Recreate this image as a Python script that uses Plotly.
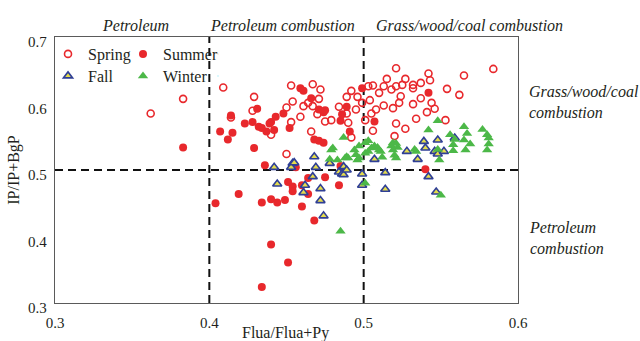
import plotly.graph_objects as go

# ---- data (Flua/(Flua+Py), IP/(IP+BgP)) ----
spring_x = [0.409, 0.383, 0.362, 0.453, 0.429, 0.454, 0.428, 0.414, 0.450, 0.453, 0.440, 0.450,
            0.521, 0.584, 0.542, 0.565, 0.527, 0.543, 0.515, 0.467, 0.472, 0.503, 0.506, 0.510,
            0.513, 0.518, 0.521, 0.525, 0.532, 0.532, 0.537, 0.554, 0.562, 0.492, 0.489, 0.496,
            0.524, 0.504, 0.471, 0.537, 0.461, 0.464, 0.467, 0.484, 0.499, 0.513, 0.523, 0.532,
            0.544, 0.546, 0.541, 0.519, 0.459, 0.470, 0.475, 0.479, 0.489, 0.495, 0.505, 0.508,
            0.501, 0.490, 0.534, 0.553, 0.521, 0.527, 0.506, 0.492, 0.466, 0.520]
spring_y = [0.624, 0.607, 0.585, 0.627, 0.610, 0.603, 0.589, 0.579, 0.594, 0.572, 0.553, 0.524,
            0.653, 0.652, 0.645, 0.642, 0.637, 0.635, 0.637, 0.629, 0.621, 0.626, 0.627, 0.616,
            0.626, 0.621, 0.626, 0.628, 0.628, 0.623, 0.631, 0.622, 0.613, 0.619, 0.610, 0.610,
            0.611, 0.605, 0.607, 0.608, 0.596, 0.601, 0.596, 0.595, 0.601, 0.597, 0.601, 0.599,
            0.601, 0.592, 0.587, 0.593, 0.580, 0.584, 0.573, 0.575, 0.585, 0.591, 0.585, 0.591,
            0.575, 0.571, 0.577, 0.575, 0.570, 0.562, 0.559, 0.549, 0.558, 0.551]

summer_x = [0.383, 0.414, 0.431, 0.448, 0.443, 0.423, 0.428, 0.432, 0.434, 0.437, 0.442, 0.452,
            0.407, 0.415, 0.412, 0.429, 0.436, 0.456, 0.454, 0.419, 0.404, 0.434, 0.440, 0.444,
            0.449, 0.451, 0.464, 0.475, 0.460, 0.454, 0.464, 0.484, 0.460, 0.468, 0.440, 0.451,
            0.434, 0.459, 0.461, 0.499, 0.542, 0.466, 0.471, 0.474, 0.475, 0.489, 0.485, 0.486,
            0.507, 0.491, 0.468, 0.471, 0.474, 0.540, 0.485, 0.440, 0.439]
summer_y = [0.534, 0.582, 0.592, 0.585, 0.580, 0.570, 0.572, 0.565, 0.563, 0.558, 0.560, 0.563,
            0.558, 0.556, 0.546, 0.533, 0.507, 0.504, 0.475, 0.464, 0.450, 0.451, 0.456, 0.451,
            0.455, 0.482, 0.488, 0.489, 0.477, 0.468, 0.464, 0.477, 0.445, 0.424, 0.388, 0.361,
            0.324, 0.623, 0.619, 0.623, 0.616, 0.608, 0.591, 0.587, 0.590, 0.595, 0.574, 0.584,
            0.573, 0.558, 0.546, 0.544, 0.541, 0.501, 0.506, 0.572, 0.570]

fall_x = [0.442, 0.454, 0.453, 0.444, 0.468, 0.469, 0.478, 0.484, 0.486, 0.487, 0.487, 0.489,
          0.467, 0.462, 0.461, 0.472, 0.472, 0.474, 0.455, 0.539, 0.548, 0.559, 0.540, 0.528,
          0.535, 0.546, 0.548, 0.552, 0.507, 0.514, 0.499, 0.499, 0.542, 0.547, 0.514]
fall_y = [0.504, 0.510, 0.504, 0.479, 0.520, 0.504, 0.510, 0.497, 0.494, 0.505, 0.493, 0.500,
          0.490, 0.477, 0.466, 0.472, 0.454, 0.431, 0.511, 0.543, 0.545, 0.548, 0.533, 0.528,
          0.516, 0.528, 0.524, 0.528, 0.516, 0.496, 0.494, 0.477, 0.490, 0.467, 0.471]

winter_x = [0.548, 0.542, 0.565, 0.577, 0.487, 0.556, 0.559, 0.567, 0.569, 0.580, 0.581, 0.581,
            0.580, 0.565, 0.566, 0.558, 0.558, 0.480, 0.494, 0.497, 0.501, 0.503, 0.495, 0.497,
            0.501, 0.503, 0.505, 0.507, 0.509, 0.510, 0.518, 0.519, 0.521, 0.522, 0.519, 0.520,
            0.521, 0.512, 0.511, 0.533, 0.534, 0.548, 0.549, 0.489, 0.490, 0.483, 0.478, 0.501,
            0.550, 0.485, 0.479, 0.488, 0.496]
winter_y = [0.574, 0.560, 0.565, 0.561, 0.549, 0.553, 0.546, 0.555, 0.539, 0.553, 0.548, 0.539,
            0.530, 0.545, 0.530, 0.538, 0.529, 0.533, 0.530, 0.536, 0.541, 0.544, 0.523, 0.518,
            0.525, 0.528, 0.533, 0.536, 0.534, 0.530, 0.536, 0.541, 0.540, 0.534, 0.530, 0.522,
            0.518, 0.519, 0.528, 0.531, 0.528, 0.531, 0.515, 0.520, 0.518, 0.515, 0.516, 0.480,
            0.462, 0.408, 0.530, 0.518, 0.515]

x_ticks = [0.3, 0.4, 0.5, 0.6]
y_ticks = [0.3, 0.4, 0.5, 0.6, 0.7]
x_bounds = [0.4, 0.5]
y_bound = 0.5

FONT = "Liberation Serif"
RED = "#e8282c"
TXT = "#231f20"

fig = go.Figure()
fig.add_trace(go.Scatter(x=spring_x, y=spring_y, mode="markers", name="Spring", legend="legend",
                         marker=dict(symbol="circle-open", size=7, color=RED, line=dict(width=1.6, color=RED))))
fig.add_trace(go.Scatter(x=summer_x, y=summer_y, mode="markers", name="Summer", legend="legend",
                         marker=dict(symbol="circle", size=8, color=RED, line=dict(width=0))))
fig.add_trace(go.Scatter(x=fall_x, y=fall_y, mode="markers", name="Fall", legend="legend2",
                         marker=dict(symbol="triangle-up", size=8, color="#e4dc4c",
                                     line=dict(width=1.6, color="#2f3f96"))))
fig.add_trace(go.Scatter(x=winter_x, y=winter_y, mode="markers", name="Winter", legend="legend2",
                         marker=dict(symbol="triangle-up", size=9, color="#4cb848", line=dict(width=0))))
# invisible spacer entries so that the two-column legends are wide enough for their labels
for lg in ["legend", "legend2"]:
    fig.add_trace(go.Scatter(x=[None], y=[None], mode="markers", name=" ", legend=lg,
                             marker=dict(size=1, opacity=0), hoverinfo="skip", showlegend=True))

shapes = []
for xb in x_bounds:
    shapes.append(dict(type="line", xref="x", yref="paper", x0=xb, x1=xb, y0=0, y1=1,
                       line=dict(color="#111111", width=2, dash="8px,5px"), layer="below"))
shapes.append(dict(type="line", xref="paper", yref="y", x0=0, x1=1, y0=y_bound, y1=y_bound,
                   line=dict(color="#111111", width=2, dash="8px,5px"), layer="below"))

ital = dict(family=FONT, size=16, color=TXT, style="italic")
annotations = [
    dict(text="Petroleum", x=0.1728, y=1.043, xref="paper", yref="paper", showarrow=False,
         xanchor="center", yanchor="middle", font=ital),
    dict(text="Petroleum combustion", x=0.4903, y=1.043, xref="paper", yref="paper", showarrow=False,
         xanchor="center", yanchor="middle", font=ital),
    dict(text="Grass/wood/coal combustion", x=0.8963, y=1.045, xref="paper", yref="paper", showarrow=False,
         xanchor="center", yanchor="middle", font=ital),
    dict(text="Grass/wood/coal<br>combustion", x=1.0194, y=0.7556, xref="paper", yref="paper",
         showarrow=False, xanchor="left", yanchor="middle", align="left", font=ital),
    dict(text="Petroleum<br>combustion", x=1.0194, y=0.2444, xref="paper", yref="paper",
         showarrow=False, xanchor="left", yanchor="middle", align="left", font=ital),
    dict(text="Flua/Flua+Py", x=0.498, y=-0.113, xref="paper", yref="paper", showarrow=False,
         xanchor="center", yanchor="middle", font=dict(family=FONT, size=16, color=TXT)),
]

axis_common = dict(showgrid=False, zeroline=False, showline=True, linecolor="#5a5a5a", linewidth=1.3,
                   mirror=True, ticks="", tickfont=dict(family=FONT, size=15, color=TXT))

leg_common = dict(orientation="h", xanchor="left", yanchor="top", entrywidth=30, entrywidthmode="pixels",
                  bgcolor="rgba(0,0,0,0)", font=dict(family=FONT, size=16, color=TXT),
                  itemclick=False, itemdoubleclick=False, tracegroupgap=0)

fig.update_layout(
    width=640, height=341,
    margin=dict(l=55, r=122, t=37, b=38, autoexpand=False),
    paper_bgcolor="white", plot_bgcolor="white",
    font=dict(family=FONT, size=16, color=TXT),
    xaxis=dict(range=[0.3, 0.6], tickvals=x_ticks, ticktext=[f"{v:.1f}" for v in x_ticks],
               ticklabelstandoff=6, **axis_common),
    yaxis=dict(range=[0.3, 0.7], tickvals=y_ticks, ticktext=[f"{v:.1f}" for v in y_ticks],
               ticklabelshift=5, ticklabelstandoff=4,
               title=dict(text="IP/IP+BgP", font=dict(family=FONT, size=16, color=TXT), standoff=4),
               **axis_common),
    legend=dict(x=-0.0151, y=1.0, **leg_common),
    legend2=dict(x=-0.0151, y=0.9173, **leg_common),
    shapes=shapes,
    annotations=annotations,
)

fig.write_html("out.html")
